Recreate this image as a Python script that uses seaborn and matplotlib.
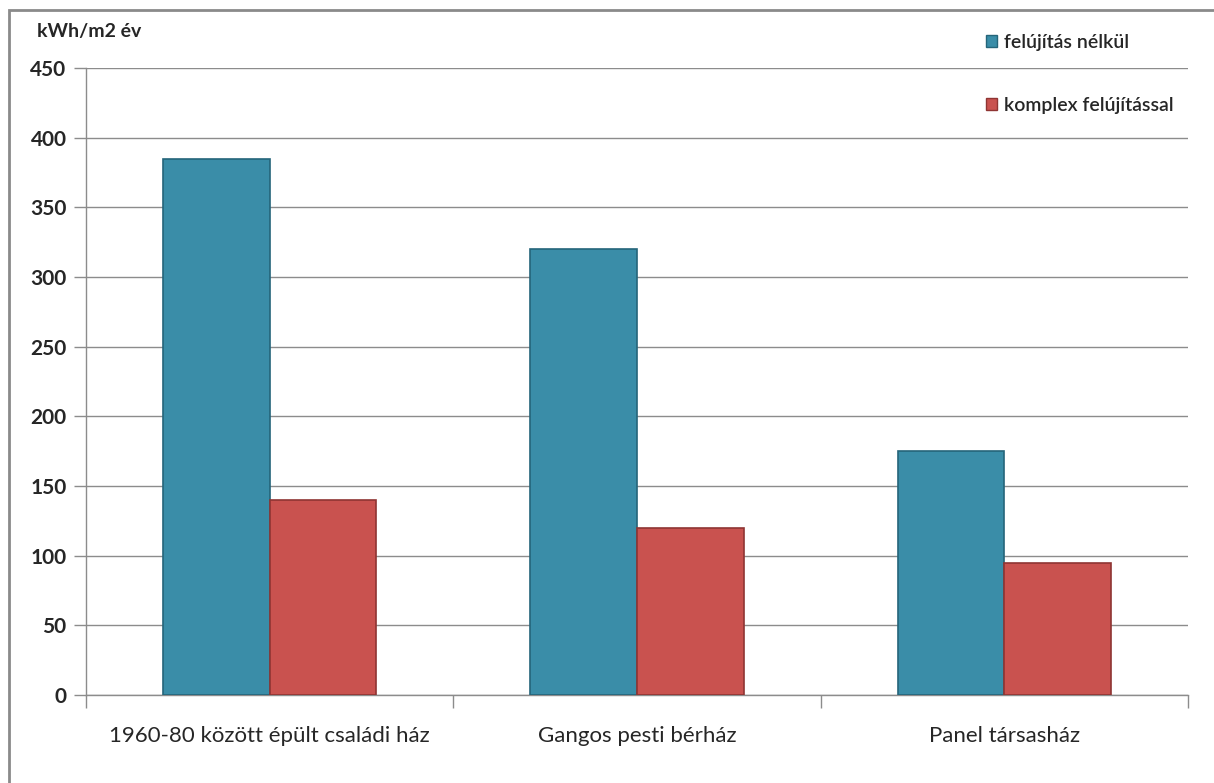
import matplotlib
matplotlib.use("Agg")
import matplotlib.pyplot as plt
import seaborn as sns
import pandas as pd
import numpy as np
from matplotlib.patches import Rectangle, Patch

categories = ["1960-80 között épült családi ház", "Gangos pesti bérház", "Panel társasház"]
series_names = ["felújítás nélkül", "komplex felújítással"]
values_no_renov = [385, 320, 175]
values_renov = [140, 120, 95]
yticks = [0, 50, 100, 150, 200, 250, 300, 350, 400, 450]
ylabel = "kWh/m2 év"

colors = ["#3A8DA8", "#C9524F"]
edge_colors = ["#25657a", "#8f3533"]

sns.set_theme(style="white")
plt.rcParams['font.family'] = ['Lato', 'DejaVu Sans']

df = pd.DataFrame({
    "cat": categories * 2,
    "series": [series_names[0]] * 3 + [series_names[1]] * 3,
    "value": values_no_renov + values_renov,
})

fig = plt.figure(figsize=(12.14, 7.83), dpi=100)
ax = fig.add_axes([86/1214, 1-695/783, (1188-86)/1214, (695-68)/783])

sns.barplot(data=df, x="cat", y="value", hue="series", order=categories,
            hue_order=series_names, palette=colors, width=0.58, gap=0,
            ax=ax, legend=False, saturation=1, zorder=3)

for i, container in enumerate(ax.containers):
    for bar in container:
        bar.set_edgecolor(edge_colors[i])
        bar.set_linewidth(1.2)

ax.set_xlim(-0.5, 2.5)
ax.set_ylim(0, 450)
ax.set_yticks(yticks)
ax.set_yticklabels([str(v) for v in yticks], fontsize=15, fontweight='bold')
ax.yaxis.grid(True, color="#8c8c8c", linewidth=1.0, zorder=0)
ax.set_axisbelow(True)
ax.tick_params(axis='y', length=9, color="#8c8c8c", width=1.0, pad=5, left=True)
ax.set_xticks(range(3))
ax.set_xticklabels(categories, fontsize=16)
ax.set_xticks([-0.5, 0.5, 1.5, 2.5], minor=True)
ax.tick_params(axis='x', which='major', length=0, pad=22)
ax.tick_params(axis='x', which='minor', length=9, color="#8c8c8c", width=1.0, bottom=True)
ax.set_xlabel("")
ax.set_ylabel("")

for s in ["top", "right"]:
    ax.spines[s].set_visible(False)
ax.spines["left"].set_color("#8c8c8c")
ax.spines["bottom"].set_color("#8c8c8c")
ax.spines["left"].set_linewidth(1.0)
ax.spines["bottom"].set_linewidth(1.0)

fig.text(37/1214, 1-32/783, ylabel, fontsize=14, fontweight='bold', va='center', ha='left')

handles = [Patch(facecolor=colors[i], edgecolor=edge_colors[i], label=series_names[i]) for i in range(2)]
fig.legend(handles=handles, loc='upper left', bbox_to_anchor=(986/1214, 1-34/783),
           frameon=False, handlelength=0.55, handleheight=0.55,
           handletextpad=0.35, labelspacing=2.35, borderaxespad=0, borderpad=0,
           prop={'weight': 'semibold', 'size': 14})

fig.patches.append(Rectangle((9/1214, -0.1), 1.2, 1 - 10/783 + 0.1, transform=fig.transFigure,
                             fill=False, edgecolor="#8a8a8a", linewidth=2.0))

fig.savefig("out.png", dpi=100)
